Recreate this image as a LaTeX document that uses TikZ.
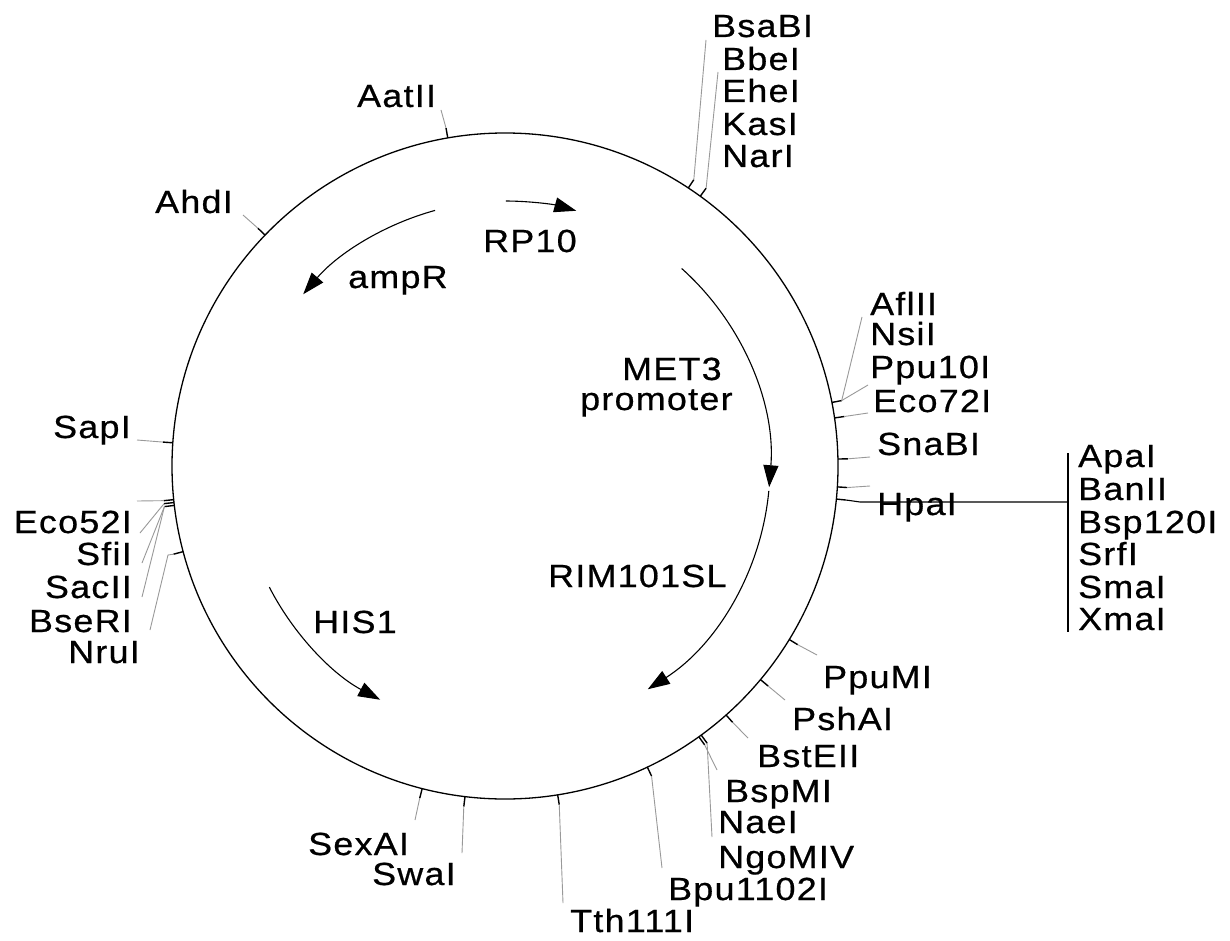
\documentclass[tikz,border=0pt]{standalone}
\usepackage{fontspec}
\setmainfont{Liberation Sans}[FakeStretch=1.12,LetterSpace=4,FakeBold=0.6]
\usetikzlibrary{arrows.meta}
\begin{document}
\begin{tikzpicture}[x=1pt,y=1pt,
  lbl/.style={anchor=base west,inner sep=0pt,font=\fontsize{32}{33}\selectfont},
  lblr/.style={lbl,anchor=base east},
  tick/.style={draw=black,line width=1.4pt},
  lead/.style={draw=black!40,line width=0.9pt},
  gene/.style={draw=black,line width=1.1pt,-{Triangle[length=22pt,width=15pt]}},
  ring/.style={draw=black,line width=1.3pt}]
\useasboundingbox (0,0) rectangle (1230,-941);
\fill[white] (0,0) rectangle (1230,-941);
\coordinate (c) at (505,-466);
% plasmid ring
\draw[ring] (c) circle[radius=333];
% inner gene arrows (radius 265)
\draw[gene] ([shift={(105.3:265)}]c) arc[start angle=105.3,end angle=139.6,radius=265];
\draw[gene] ([shift={(89.8:265)}]c) arc[start angle=89.8,end angle=74.4,radius=265];
\draw[gene] ([shift={(48.2:265)}]c) arc[start angle=48.2,end angle=-4.6,radius=265];
\draw[gene] ([shift={(-5.4:265)}]c) arc[start angle=-5.4,end angle=-57.4,radius=265];
\draw[gene] ([shift={(207.2:265)}]c) arc[start angle=207.2,end angle=241.9,radius=265];
% inner labels
\node[lbl] (ampR) at (348,-288) {ampR};
\node[lbl] (rp10) at (483,-252) {RP10};
\node[lbl] (met3) at (622,-380) {MET3};
\node[lbl] (prom) at (580,-410) {promoter};
\node[lbl] (rim) at (548,-587) {RIM101SL};
\node[lbl] (his) at (313,-633) {HIS1};
% site ticks
\foreach \a/\n in {99.9/aat,136.1/ahd,56.6/bsab,54.1/nar,11.0/afl,8.3/eco72,1.2/sna,-3.6/hpx,-5.7/hpa,
  -31.4/ppum,-39.9/psh,-48.4/bste,-54.4/bspm,-53.9/nae,-64.7/bpu,-80.9/tth,-96.9/swa,-104.4/sex,
  194.9/bser,185.8/cla,186.3/clb,186.8/clc,176.0/sap}{
  \coordinate (i\n) at ([shift={(\a:333)}]c);
  \coordinate (o\n) at ([shift={(\a:343)}]c);
  \draw[tick] (i\n) -- (o\n);
}
% leader end points
\coordinate (eaat) at (441,-110);
\coordinate (eahd) at (243,-215);
\coordinate (ebsab) at (706,-40);
\coordinate (enar) at (718,-72);
\coordinate (eafl) at (862,-317);
\coordinate (eppu) at (868,-385);
\coordinate (eeco72) at (868,-413);
\coordinate (esna) at (870,-457);
\coordinate (ehpx) at (870,-486);
\coordinate (ehpa) at (860,-502);
\coordinate (eppum) at (817,-655);
\coordinate (epsh) at (785,-700);
\coordinate (ebste) at (748,-738);
\coordinate (ebspm) at (717,-770);
\coordinate (enae) at (712,-837);
\coordinate (ebpu) at (662,-868);
\coordinate (etth) at (563,-903);
\coordinate (eswa) at (462,-853);
\coordinate (esex) at (415,-820);
\coordinate (ebserk) at (168,-555);
\coordinate (ebser) at (150,-630);
\coordinate (ecla) at (137,-501);
\coordinate (eclb) at (140,-533);
\coordinate (eclc) at (142,-563);
\coordinate (ecld) at (142,-597);
\coordinate (esap) at (137,-440);
\foreach \n in {aat,ahd,bsab,nar,afl,eco72,sna,hpx,ppum,psh,bste,bspm,bpu,tth,swa,sex,cla,clb,clc,sap}{
  \draw[lead] (o\n) -- (e\n);
}
\draw[lead] (oafl) -- (eppu);
\draw[lead] (onae) -- (enae);
\draw[lead] (oclc) -- (ecld);
\draw[lead] (obser) -- (ebserk) -- (ebser);
% HpaI long connector and bracket
\coordinate (bkt) at (1068,-502);
\coordinate (btop) at (1068,-453);
\coordinate (bbot) at (1068,-632);
\draw[line width=1.1pt] (ohpa) -- (ehpa) -- (bkt);
\draw[line width=1.1pt] (btop) -- (bbot);
% site labels
\node[lbl] (BsaBI) at (712,-37) {BsaBI};
\node[lbl] (BbeI) at (722,-70) {BbeI};
\node[lbl] (EheI) at (722,-102) {EheI};
\node[lbl] (KasI) at (722,-135) {KasI};
\node[lbl] (NarI) at (722,-167) {NarI};
\node[lbl] (AatII) at (357,-107) {AatII};
\node[lbl] (AhdI) at (155,-213) {AhdI};
\node[lbl] (SapI) at (53,-438) {SapI};
\node[lblr] (Eco52I) at (132,-533) {Eco52I};
\node[lblr] (SfiI) at (132,-565) {SfiI};
\node[lblr] (SacII) at (132,-598) {SacII};
\node[lblr] (BseRI) at (132,-632) {BseRI};
\node[lblr] (NruI) at (140,-663) {NruI};
\node[lbl] (AflII) at (870,-315) {AflII};
\node[lbl] (NsiI) at (870,-345) {NsiI};
\node[lbl] (Ppu10I) at (870,-378) {Ppu10I};
\node[lbl] (Eco72I) at (873,-412) {Eco72I};
\node[lbl] (SnaBI) at (877,-455) {SnaBI};
\node[lbl] (HpaI) at (877,-515) {HpaI};
\node[lbl] (ApaI) at (1078,-467) {ApaI};
\node[lbl] (BanII) at (1078,-500) {BanII};
\node[lbl] (Bsp120I) at (1078,-533) {Bsp120I};
\node[lbl] (SrfI) at (1078,-565) {SrfI};
\node[lbl] (SmaI) at (1078,-598) {SmaI};
\node[lbl] (XmaI) at (1078,-630) {XmaI};
\node[lbl] (PpuMI) at (823,-688) {PpuMI};
\node[lbl] (PshAI) at (792,-730) {PshAI};
\node[lbl] (BstEII) at (757,-767) {BstEII};
\node[lbl] (BspMI) at (725,-802) {BspMI};
\node[lbl] (NaeI) at (718,-833) {NaeI};
\node[lbl] (NgoMIV) at (718,-868) {NgoMIV};
\node[lbl] (Bpu1102I) at (668,-900) {Bpu1102I};
\node[lbl] (Tth111I) at (570,-932) {Tth111I};
\node[lbl] (SexAI) at (308,-855) {SexAI};
\node[lbl] (SwaI) at (372,-885) {SwaI};
\end{tikzpicture}
\end{document}
